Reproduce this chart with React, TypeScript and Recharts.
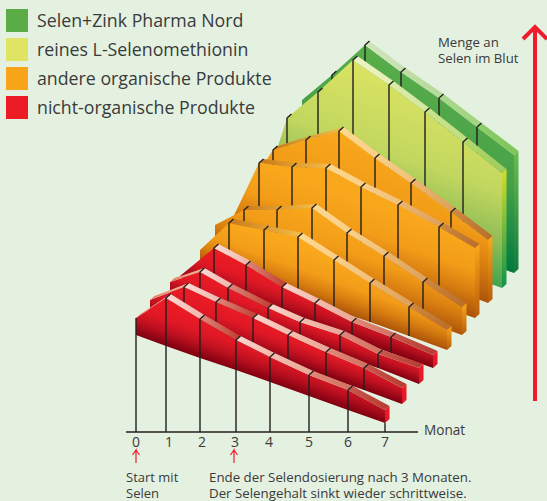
import React from "react";
import { ComposedChart, Area, Line, XAxis, YAxis } from "recharts";

const W = 547;
const H = 501;
const AXIS_Y = 432;
const LABEL_Y = 447;
const DX = 4.5;
const DY = 4;

const monthLabels = ["0", "1", "2", "3", "4", "5", "6", "7"];
const monthLabelX = [136, 169, 202, 235, 269, 309, 348, 385];

const legendLabels = ["Selen+Zink Pharma Nord", "reines L-Selenomethionin", "andere organische Produkte", "nicht-organische Produkte"];
const legendColors = ["#5bab47", "#dfe562", "#f9a51a", "#ed1c24"];

const green1X = [302, 332, 365, 401, 439, 477, 514];
const green1Top = [100, 75, 45, 72, 98, 127, 155];
const green1Base = [197, 208, 220, 233, 246, 260, 273];

const lime1X = [272, 287, 318, 353, 389, 425, 463, 502];
const lime1Top = [165, 118, 92, 60, 85, 112, 142, 173];
const lime1Base = [206, 211, 222, 235, 248, 261, 274, 288];

const orange4X = [255, 273, 306, 339, 375, 411, 451, 488];
const orange4Top = [178, 150, 140, 131, 158, 183, 212, 240];
const orange4Base = [220, 226, 238, 250, 262, 275, 289, 303];

const orange3X = [228, 259, 292, 326, 361, 398, 439, 475];
const orange3Top = [228, 163, 167, 168, 187, 205, 227, 248];
const orange3Base = [232, 241, 253, 265, 278, 291, 306, 318];

const orange2X = [215, 244, 277, 312, 347, 384, 423, 462];
const orange2Top = [225, 210, 210, 208, 233, 256, 282, 307];
const orange2Base = [247, 258, 269, 282, 294, 307, 321, 335];

const orange1X = [200, 229, 264, 298, 334, 370, 409, 447];
const orange1Top = [250, 223, 230, 237, 260, 283, 307, 330];
const orange1Base = [262, 272, 285, 297, 310, 322, 336, 350];

const red4X = [180, 214, 246, 282, 315, 352, 391, 433];
const red4Top = [276, 248, 265, 287, 303, 322, 337, 355];
const red4Base = [277, 290, 301, 314, 326, 339, 353, 368];

const red3X = [170, 200, 228, 268, 300, 340, 378, 419];
const red3Top = [282, 272, 288, 308, 322, 335, 354, 368];
const red3Base = [294, 305, 315, 329, 340, 355, 368, 384];

const red2X = [150, 184, 216, 253, 288, 326, 364, 402];
const red2Top = [300, 287, 302, 318, 335, 352, 368, 388];
const red2Base = [314, 326, 337, 351, 363, 377, 390, 404];

const red1X = [136, 166, 200, 236, 270, 309, 348, 385];
const red1Top = [318, 298, 319, 340, 357, 375, 390, 410];
const red1Base = [335, 346, 358, 370, 382, 396, 410, 423];

type Pair = [string, string] | null;

const redSurfaces: Pair[] = [
  ["#e07a60", "#f4c0a0"], ["#fbdcd6", "#f0b4a8"], ["#dd8a7c", "#c23c30"], ["#fbd6cd", "#f3b8aa"],
  ["#f4bfb0", "#e9a595"], ["#e08a7a", "#d27060"], ["#c9584c", "#b53b33"],
];
const backRedSurfaces: Pair[] = [null, ...redSurfaces.slice(1)];
const orangeSurfaces: Pair[] = [
  null, ["#c9791b", "#e2a030"], ["#dd9a2e", "#f4bd4c"], ["#fdd98f", "#f9cf85"],
  ["#f8cf8a", "#f0bf78"], ["#ecb670", "#dda058"], ["#d08a40", "#b86c28"],
];
const limeSurfaces: Pair[] = [
  null, null, null, ["#eef5c8", "#e4eeb0"], ["#dcebaa", "#d3e79c"], ["#cbe38e", "#bfde80"], ["#b4d96c", "#9ccc5c"],
];
const greenSurfaces: Pair[] = [
  null, null, ["#cfe6bb", "#c4e1ae"], ["#bfdea5", "#b6da98"], ["#aad78c", "#a0d380"], ["#8ccd6a", "#7cc658"],
];

const redFace = [["0", "#ed1c24"], ["0.45", "#e01825"], ["0.7", "#bd101f"], ["1", "#7d0010"]];
const orangeFace = [["0", "#f9a81c"], ["0.42", "#f29c18"], ["0.7", "#d87e10"], ["1", "#ad540a"]];
const limeFace = [["0", "#dbe362"], ["0.45", "#c2d75f"], ["0.75", "#8fbc55"], ["1", "#3fa650"]];
const greenFace = [["0", "#5aae4a"], ["0.5", "#45a048"], ["0.8", "#1b8a45"], ["1", "#007a3d"]];

const redCap = ["#f01c2a", "#e01525"];
const orangeCap = ["#f8a81c", "#b85c0a"];
const limeCap = ["#d8de2c", "#10934b"];
const greenCap = ["#6cbd50", "#0f7a40"];

const ribbons = [
  { id: "g1", x: green1X, top: green1Top, base: green1Base, surfaces: greenSurfaces, face: greenFace, cap: greenCap, tickFrom: 1, tickTo: 5 },
  { id: "l1", x: lime1X, top: lime1Top, base: lime1Base, surfaces: limeSurfaces, face: limeFace, cap: limeCap, tickFrom: 1, tickTo: 6 },
  { id: "o4", x: orange4X, top: orange4Top, base: orange4Base, surfaces: orangeSurfaces, face: orangeFace, cap: orangeCap, tickFrom: 1, tickTo: 6 },
  { id: "o3", x: orange3X, top: orange3Top, base: orange3Base, surfaces: orangeSurfaces, face: orangeFace, cap: orangeCap, tickFrom: 1, tickTo: 6 },
  { id: "o2", x: orange2X, top: orange2Top, base: orange2Base, surfaces: orangeSurfaces, face: orangeFace, cap: orangeCap, tickFrom: 1, tickTo: 6 },
  { id: "o1", x: orange1X, top: orange1Top, base: orange1Base, surfaces: orangeSurfaces, face: orangeFace, cap: orangeCap, tickFrom: 1, tickTo: 6 },
  { id: "r4", x: red4X, top: red4Top, base: red4Base, surfaces: backRedSurfaces, face: redFace, cap: redCap, tickFrom: 1, tickTo: 6 },
  { id: "r3", x: red3X, top: red3Top, base: red3Base, surfaces: redSurfaces, face: redFace, cap: redCap, tickFrom: 1, tickTo: 6 },
  { id: "r2", x: red2X, top: red2Top, base: red2Base, surfaces: redSurfaces, face: redFace, cap: redCap, tickFrom: 1, tickTo: 6 },
  { id: "r1", x: red1X, top: red1Top, base: red1Base, surfaces: redSurfaces, face: redFace, cap: redCap, tickFrom: 0, tickTo: 6, toAxis: true },
];

const bigArrowShaft = [{ x: 535, y: 401 }, { x: 535, y: 29 }];
const bigArrowHead = [{ x: 523, y: 39 }, { x: 535, y: 27 }, { x: 547, y: 39 }];
const startArrow = [{ x: 136, y: 463 }, { x: 136, y: 450 }, { x: 132.5, y: 455 }, { x: 136, y: 450 }, { x: 139.5, y: 455 }];
const endArrow = [{ x: 234, y: 463 }, { x: 234, y: 450 }, { x: 230.5, y: 455 }, { x: 234, y: 450 }, { x: 237.5, y: 455 }];
const axisLine = [{ x: 126, y: AXIS_Y }, { x: 418, y: AXIS_Y }];

const FONT = "'Open Sans', 'Noto Sans', sans-serif";
const TEXT = "#3a3a3c";

function faceGradient(r: any) {
  const peak = r.top.indexOf(Math.min(...r.top));
  const n = r.x.length - 1;
  const s = (r.base[n] - r.base[0]) / (r.x[n] - r.x[0]);
  const norm = Math.hypot(s, 1);
  const d = (r.base[peak] - r.top[peak]) / (norm * norm);
  return { x1: r.x[peak], y1: r.top[peak], x2: r.x[peak] - s * d, y2: r.top[peak] + d };
}

function surfaceRows(x0: number, y0: number, x1: number, y1: number) {
  const s = (y1 - y0) / (x1 - x0);
  return [
    { x: x0, band: [y0, y0] },
    { x: x0 + DX, band: [y0 - DY, y0 + s * DX] },
    { x: x1, band: [y0 - DY + s * (x1 - x0 - DX), y1] },
    { x: x1 + DX, band: [y1 - DY, y1 - DY] },
  ];
}

function Tick(props: any) {
  const i = monthLabelX.indexOf(Number(props.payload.value));
  return (
    <text x={props.x} y={LABEL_Y} textAnchor="middle" fontFamily={FONT} fontSize={14} fill={TEXT}>
      {monthLabels[i]}
    </text>
  );
}

const Z = 100;

function lineSeries(key: string, data: any[], stroke: string, width: number) {
  return (
    <Line
      key={key}
      data={data}
      dataKey="y"
      stroke={stroke}
      strokeWidth={width}
      dot={false}
      activeDot={false}
      legendType="none"
      isAnimationActive={false}
      {...({ zIndex: Z } as any)}
    />
  );
}

function areaSeries(key: string, data: any[], fill: string) {
  return (
    <Area
      key={key}
      data={data}
      dataKey="band"
      type="linear"
      fill={fill}
      fillOpacity={1}
      stroke="none"
      dot={false}
      activeDot={false}
      legendType="none"
      isAnimationActive={false}
      {...({ zIndex: Z } as any)}
    />
  );
}

export default function App() {
  const defs: React.ReactNode[] = [];
  const series: React.ReactNode[] = [];

  ribbons.forEach((r: any) => {
    const g = faceGradient(r);
    defs.push(
      <linearGradient key={r.id + "f"} id={r.id + "face"} gradientUnits="userSpaceOnUse" x1={g.x1} y1={g.y1} x2={g.x2} y2={g.y2}>
        {r.face.map((st: string[]) => <stop key={st[0]} offset={st[0]} stopColor={st[1]} />)}
      </linearGradient>
    );
    defs.push(
      <linearGradient key={r.id + "c"} id={r.id + "cap"} x1="0" y1="0" x2="0" y2="1">
        <stop offset="0" stopColor={r.cap[0]} />
        <stop offset="1" stopColor={r.cap[1]} />
      </linearGradient>
    );
    const n = r.x.length - 1;
    series.push(areaSeries(r.id + "-face", r.x.map((x: number, i: number) => ({ x, band: [r.top[i], r.base[i]] })), `url(#${r.id}face)`));
    r.surfaces.forEach((c: Pair, i: number) => {
      if (!c || i >= n) return;
      defs.push(
        <linearGradient key={r.id + "s" + i} id={r.id + "s" + i} x1="0" y1="0" x2="1" y2="0">
          <stop offset="0" stopColor={c[0]} />
          <stop offset="1" stopColor={c[1]} />
        </linearGradient>
      );
      series.push(areaSeries(r.id + "-s" + i, surfaceRows(r.x[i], r.top[i], r.x[i + 1], r.top[i + 1]), `url(#${r.id}s${i})`));
    });
    series.push(areaSeries(r.id + "-cap", [
      { x: r.x[n], band: [r.top[n], r.base[n]] },
      { x: r.x[n] + DX, band: [r.top[n] - DY, r.base[n] - DY] },
    ], `url(#${r.id}cap)`));
    for (let i = r.tickFrom; i <= r.tickTo; i++) {
      const low = r.toAxis ? AXIS_Y : r.base[i];
      const pts = [{ x: r.x[i], y: low }, { x: r.x[i], y: r.top[i] }];
      if (i > 0) pts.push({ x: r.x[i] + DX, y: r.top[i] - DY });
      series.push(lineSeries(r.id + "-t" + i, pts, "#231f20", 1.4));
    }
    if (r.toAxis) {
      series.push(lineSeries(r.id + "-tend", [{ x: r.x[n], y: AXIS_Y }, { x: r.x[n], y: r.base[n] }], "#231f20", 1.4));
    }
  });

  const textStyle: React.CSSProperties = { position: "absolute", fontFamily: FONT, color: TEXT, whiteSpace: "nowrap", lineHeight: "16px" };

  return (
    <div style={{ position: "absolute", left: 0, top: 0, width: W, height: H, background: "#e4f1e0", overflow: "hidden" }}>
      <ComposedChart width={W} height={H} margin={{ top: 0, right: 0, bottom: 0, left: 0 }}>
        <defs>{defs}</defs>
        <XAxis
          type="number"
          dataKey="x"
          domain={[0, W]}
          ticks={monthLabelX}
          interval={0}
          height={1}
          axisLine={false}
          tickLine={false}
          tick={Tick}
        />
        <YAxis type="number" domain={[0, H - 1]} reversed hide width={0} />
        {series}
        {lineSeries("axis", axisLine, "#231f20", 1.3)}
        {lineSeries("big-shaft", bigArrowShaft, "#ef1c2e", 4)}
        {lineSeries("big-head", bigArrowHead, "#ef1c2e", 4)}
        {lineSeries("start", startArrow, "#ef1c2e", 1.2)}
        {lineSeries("end", endArrow, "#ef1c2e", 1.2)}
      </ComposedChart>
      {legendLabels.map((t, i) => (
        <React.Fragment key={t}>
          <div style={{ position: "absolute", left: 6, top: 9 + i * 29, width: 22, height: 23, background: legendColors[i] }} />
          <div style={{ ...textStyle, left: 37, top: 12 + i * 29, fontSize: 17.75 }}>{t}</div>
        </React.Fragment>
      ))}
      <div style={{ ...textStyle, left: 438, top: 34, fontSize: 13.2 }}>Menge an<br />Selen im Blut</div>
      <div style={{ ...textStyle, left: 424, top: 422, fontSize: 13.6 }}>Monat</div>
      <div style={{ ...textStyle, left: 126, top: 469, fontSize: 13 }}>Start mit<br />Selen</div>
      <div style={{ ...textStyle, left: 209, top: 469, fontSize: 13.3 }}>Ende der Selendosierung nach 3 Monaten.<br />Der Selengehalt sinkt wieder schrittweise.</div>
    </div>
  );
}
